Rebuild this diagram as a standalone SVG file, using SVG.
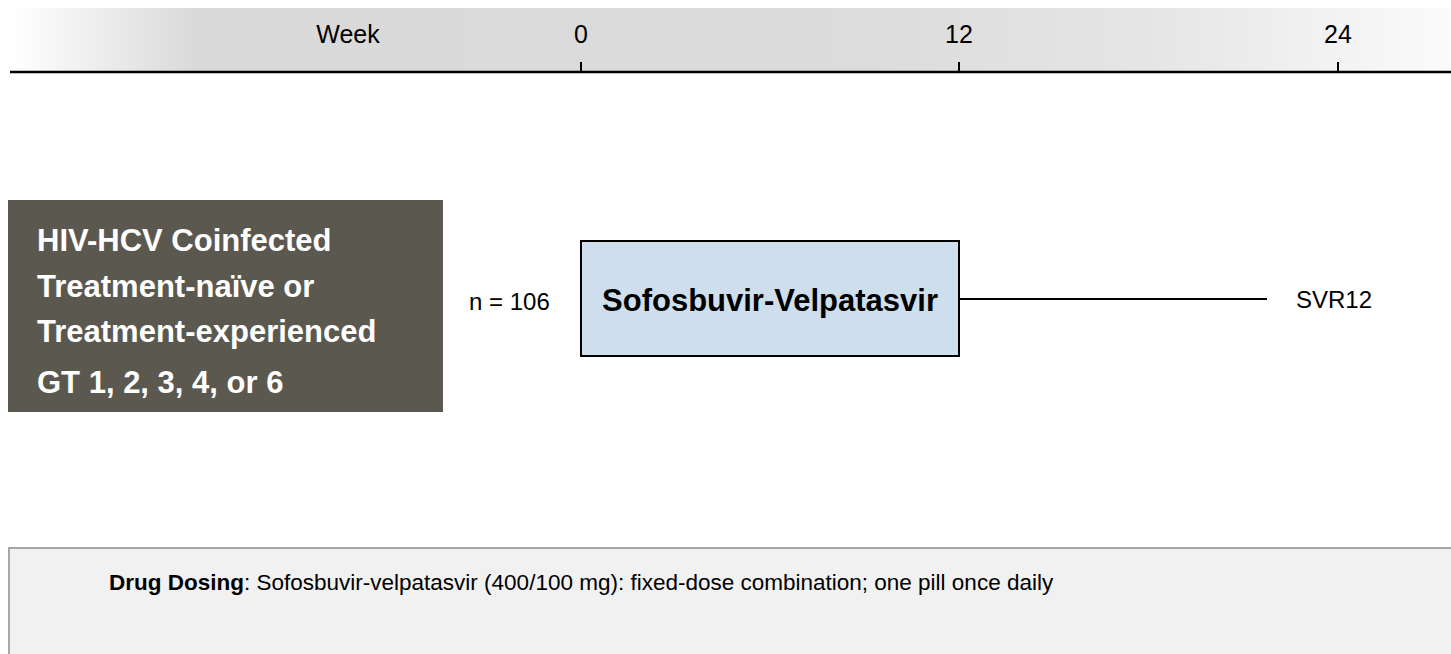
<svg xmlns="http://www.w3.org/2000/svg" width="1451" height="654" viewBox="0 0 1451 654">
<defs>
<linearGradient id="hdr" x1="0" y1="0" x2="1" y2="0">
<stop offset="0" stop-color="#ffffff"/>
<stop offset="0.13" stop-color="#d9d9d9"/>
<stop offset="0.6" stop-color="#dcdcdc"/>
<stop offset="0.8" stop-color="#e6e6e6"/>
<stop offset="1" stop-color="#fbfbfb"/>
</linearGradient>
<style>
.t{font-family:"Liberation Sans",Arial,sans-serif;}
.ax{font-size:25px;fill:#000;text-anchor:middle;}
.wb{font-size:31px;font-weight:bold;fill:#fff;}
.ln{stroke:#000;stroke-width:2;fill:none;}
</style>
</defs>
<g id="header">
<rect x="10" y="8" width="1441" height="63" fill="url(#hdr)"/>
<line x1="10" y1="72" x2="1451" y2="72" stroke="#000" stroke-width="2.5"/>
<text class="t ax" x="348" y="43">Week</text>
<text class="t ax" x="581" y="43">0</text>
<text class="t ax" x="959" y="43">12</text>
<text class="t ax" x="1338" y="43">24</text>
<line class="ln" x1="581" y1="62" x2="581" y2="72"/>
<line class="ln" x1="959" y1="62" x2="959" y2="72"/>
<line class="ln" x1="1338" y1="62" x2="1338" y2="72"/>
</g>
<g id="population">
<rect x="8" y="200" width="435" height="212" fill="#5b5850"/>
<text class="t wb" x="37" y="251">HIV-HCV Coinfected</text>
<text class="t wb" x="37" y="297">Treatment-naïve or</text>
<text class="t wb" x="37" y="342">Treatment-experienced</text>
<text class="t wb" x="37" y="393">GT 1, 2, 3, 4, or 6</text>
</g>
<g id="n-label">
<text class="t" x="469" y="310" font-size="24" fill="#000">n = 106</text>
</g>
<g id="treatment">
<rect x="581" y="241" width="378" height="115" fill="#cfdeed" stroke="#000" stroke-width="2"/>
<text class="t" x="770" y="311" font-size="31" font-weight="bold" text-anchor="middle" fill="#000">Sofosbuvir-Velpatasvir</text>
</g>
<g id="connectors">
<line class="ln" x1="959" y1="299" x2="1267" y2="299"/>
</g>
<g id="outcome">
<text class="t" x="1296" y="308" font-size="24" fill="#000">SVR12</text>
</g>
<g id="dosing">
<rect x="9" y="548" width="1444" height="110" fill="#f1f1f1" stroke="#a6a6a6" stroke-width="2"/>
<text class="t" x="109" y="590" font-size="22.5" fill="#000"><tspan font-weight="bold">Drug Dosing</tspan>: Sofosbuvir-velpatasvir (400/100 mg): fixed-dose combination; one pill once daily</text>
</g>
</svg>
